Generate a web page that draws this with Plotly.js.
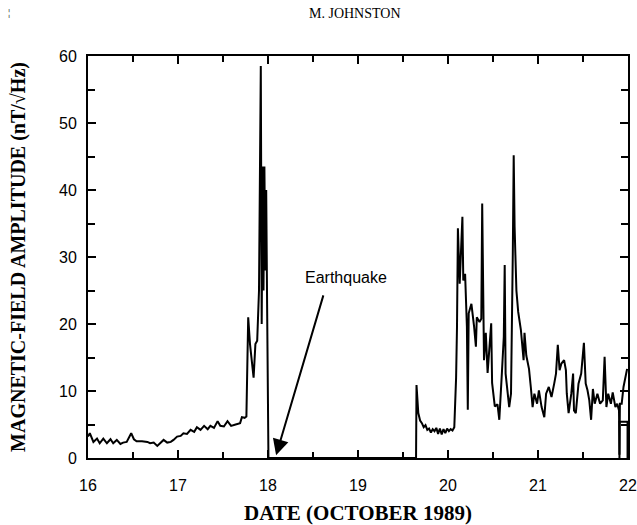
<!DOCTYPE html>
<html>
<head>
<meta charset="utf-8">
<script src="https://cdn.plot.ly/plotly-3.0.1.min.js"></script>
<style>html,body{margin:0;padding:0;background:#fff}</style>
</head>
<body>
<div id="chart" style="width:637px;height:525px"></div>
<script>
// Day of October 1989 (fractional)
const dayLow = [16.00,16.02,16.06,16.10,16.13,16.17,16.21,16.25,16.28,16.32,16.36,16.39,16.43,16.48,16.51,16.54,16.60,16.66,16.69,16.73,16.77,16.80,16.84,16.88,16.92,16.95,16.99,17.03,17.06,17.10,17.14,17.18,17.21,17.25,17.29,17.33,17.36,17.40,17.44,17.47,17.51,17.55,17.59,17.64,17.69,17.71,17.74,17.76];
const ampLow = [3.2,3.7,2.4,2.9,2.2,2.9,2.2,2.8,2.2,2.7,2.1,2.3,2.4,3.7,2.8,2.5,2.5,2.4,2.2,2.3,1.8,2.2,2.7,2.3,2.4,2.7,3.2,3.3,3.7,3.6,4.2,3.9,4.6,4.2,4.8,4.3,4.8,4.5,5.5,4.8,4.7,5.5,4.8,5.0,5.2,6.1,6.0,6.2];

const daySpike = [17.78,17.80,17.82,17.84,17.86,17.88,17.90,17.92,17.93,17.94,17.95,17.96,17.97,17.98,17.99,18.005];
const ampSpike = [21,17,14,12,17,17.5,25,58.5,20,43.5,25,43.5,28,40,23,0];

const dayQuiet = [18.005,19.645];
const ampQuiet = [0,0];

const dayAfter = [19.65,19.67,19.69,19.71,19.73,19.75,19.77,19.79,19.81,19.83,19.85,19.87,19.89,19.91,19.93,19.95,19.97,19.99,20.01,20.03,20.05,20.07,20.09,20.10,20.11,20.13,20.15,20.16,20.17,20.19,20.21,20.22,20.23,20.26,20.29,20.31,20.32,20.35,20.37,20.38,20.40,20.42,20.44,20.48,20.49,20.52,20.55,20.57,20.60,20.62,20.63,20.64,20.68,20.70,20.72,20.73,20.74,20.76,20.78,20.81,20.84,20.85,20.87,20.90,20.92,20.94,20.96,20.99,21.01,21.04,21.07,21.09,21.12,21.15,21.18,21.20,21.22,21.24,21.26,21.29,21.31,21.32,21.34,21.37,21.39,21.40,21.42,21.45,21.48,21.51,21.53,21.55,21.57,21.59,21.61,21.63,21.66,21.69,21.72,21.74,21.76,21.78,21.81,21.83,21.86,21.88,21.90,21.905,21.91,21.93,21.95,21.97,21.99];
const ampAfter = [10.9,6.7,5.6,5.2,4.6,4.9,4.2,4.4,3.8,4.3,4.0,4.5,3.6,4.4,3.5,4.3,3.7,4.4,4.0,4.3,4.1,4.6,12,19.6,34.3,26,33.6,36,26.5,27.5,19.6,7.2,21.6,23,19.6,16.6,21,20.3,20.8,38,14.6,18.7,12.7,20.1,11.2,7.7,8,5.7,13,18.1,28.8,12.6,7.6,9.6,30.5,45.2,34.5,25,21.8,19.1,14.6,18.7,15.3,13.3,10.6,7.6,9.6,8.1,10.1,7.6,6.1,9.6,10.6,9.1,11.1,12.6,16.9,13.1,14.1,14.6,13.1,9.6,6.7,9.6,12.6,7.1,6.7,11.1,12.6,17.2,11.1,10.1,8.6,5.7,10.3,8.1,9.6,8.1,8.6,15.1,7.6,9.6,8.1,9.8,7.6,8.1,7.1,0.5,8.1,8.1,10.6,11.8,13.3];

const dayBox = [21.905,21.905,21.995,21.995];
const ampBox = [0,5.4,5.4,0];

const xTickVals = [16,17,18,19,20,21,22];
const yTickVals = [0,10,20,30,40,50,60];

const line = {color:'#000', width:2};
const traces = [
  {x:dayLow.concat(daySpike, dayQuiet, dayAfter), y:ampLow.concat(ampSpike, ampQuiet, ampAfter), mode:'lines', line:line, hoverinfo:'skip'},
  {x:dayBox, y:ampBox, mode:'lines', line:line, hoverinfo:'skip'}
];

const serif = 'Liberation Serif, Times New Roman, serif';
const sans = 'Liberation Sans, Arial, Helvetica, sans-serif';

const layout = {
  width:637, height:525,
  margin:{l:88, r:9, t:56, b:67},
  paper_bgcolor:'#fff', plot_bgcolor:'#fff',
  showlegend:false,
  xaxis:{
    range:[16,22], tickvals:xTickVals, ticktext:xTickVals.map(String),
    ticks:'inside', ticklen:8, tickwidth:2, tickcolor:'#000',
    minor:{dtick:0.5, ticks:'inside', ticklen:6, tickwidth:2, tickcolor:'#000'},
    showgrid:false, zeroline:false, showline:true, linecolor:'#000', linewidth:2, mirror:'ticks',
    tickfont:{family:sans, size:16, color:'#000'}, ticklabelstandoff:12,
    title:{text:'<b>DATE (OCTOBER 1989)</b>', font:{family:serif, size:21, color:'#000'}, standoff:14}
  },
  yaxis:{
    range:[0,60], tickvals:yTickVals, ticktext:yTickVals.map(String),
    ticks:'inside', ticklen:8, tickwidth:2, tickcolor:'#000',
    minor:{dtick:5, ticks:'inside', ticklen:7, tickwidth:2, tickcolor:'#000'},
    showgrid:false, zeroline:false, showline:true, linecolor:'#000', linewidth:2, mirror:'ticks',
    tickfont:{family:sans, size:16, color:'#000'}, ticklabelstandoff:6,
    title:{text:'<b>MAGNETIC-FIELD AMPLITUDE (nT/\u221AHz)</b>', font:{family:serif, size:20, color:'#000'}, standoff:28}
  },
  annotations:[
    {x:18.09, y:0.4, xref:'x', yref:'y', ax:18.62, ay:24.5, axref:'x', ayref:'y',
     showarrow:true, arrowhead:2, arrowsize:1.6, arrowwidth:2, arrowcolor:'#000', text:''},
    {x:18.87, y:27.0, xref:'x', yref:'y', text:'Earthquake', showarrow:false,
     font:{family:sans, size:16, color:'#000'}},
    {x:0.495, y:1, xref:'paper', yref:'paper', yanchor:'bottom', yshift:33, text:'M. JOHNSTON', showarrow:false,
     font:{family:serif, size:14, color:'#000'}},
    {x:0, y:1, xref:'paper', yref:'paper', xanchor:'left', yanchor:'bottom', xshift:-82, yshift:36, text:'\u00A6', showarrow:false,
     font:{family:serif, size:11, color:'#000'}}
  ]
};

Plotly.newPlot('chart', traces, layout, {displayModeBar:false, staticPlot:true});
</script>
</body>
</html>
